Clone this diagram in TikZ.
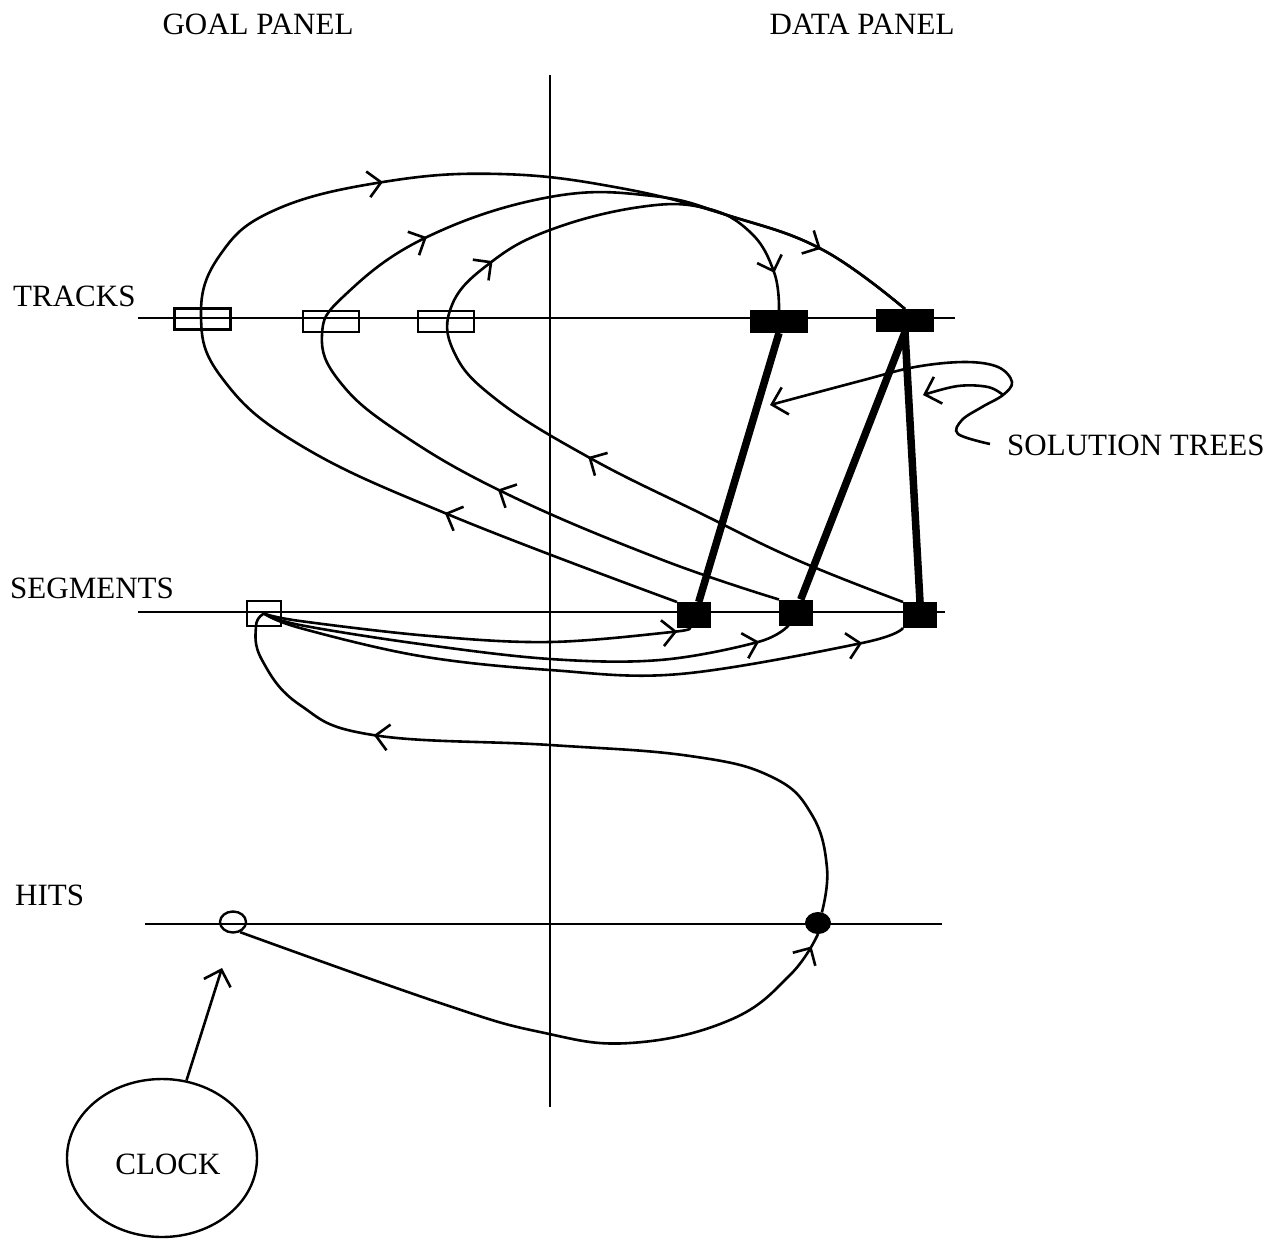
\documentclass[tikz,border=0pt]{standalone}
\usepackage{fontspec}
\setmainfont{Liberation Serif}
\usetikzlibrary{arrows.meta,decorations.markings,shapes.geometric}
\begin{document}
\begin{tikzpicture}[x=1pt,y=-1pt,
  lane/.style={line width=2.4pt},
  curve/.style={line width=2.6pt},
  goalbox/.style={draw, line width=2.8pt, minimum width=56pt, minimum height=21pt, inner sep=0pt},
  sgoalbox/.style={draw, line width=2.8pt, minimum width=34pt, minimum height=25pt, inner sep=0pt},
  databox/.style={draw, fill=black, line width=1pt, minimum width=57pt, minimum height=22pt, inner sep=0pt},
  sdatabox/.style={draw, fill=black, line width=1pt, minimum width=33pt, minimum height=25pt, inner sep=0pt},
  lbl/.style={font=\fontsize{31}{37}\selectfont, inner sep=0pt},
  arr/.style={postaction={decorate, decoration={markings, mark=at position #1 with {\arrow{Straight Barb[length=13pt,width=26pt,line width=2.6pt]}}}}},
  tree/.style={line width=7.5pt},
  tipv/.style={-{Straight Barb[length=14pt,width=28pt]}}
]
\useasboundingbox (0,0) rectangle (1281,1241);

% labels
\node[lbl, anchor=base] (goalL) at (258,35) {GOAL PANEL};
\node[lbl, anchor=base] (dataL) at (862,35) {DATA PANEL};
\node[lbl, anchor=base west] (tracksL) at (13,306) {TRACKS};
\node[lbl, anchor=base west] (segL) at (10,598) {SEGMENTS};
\node[lbl, anchor=base west] (hitsL) at (15,905) {HITS};
\node[lbl, anchor=base west] (solL) at (1007,455) {SOLUTION TREES};

% axes
\coordinate (vtop) at (550,75);
\coordinate (vbot) at (550,1107);
\draw[lane] (vtop) -- (vbot);
\coordinate (tl) at (138,318); \coordinate (tr) at (955,318);
\coordinate (sl) at (138,612); \coordinate (sr) at (945,612);
\coordinate (hl) at (145,924); \coordinate (hr) at (942,924);
\draw[lane] (tl) -- (tr);
\draw[lane] (sl) -- (sr);
\draw[lane] (hl) -- (hr);

% nodes
\node[goalbox] (tg1) at (202.5,319) {};
\node[goalbox] (tg2) at (331,321.5) {};
\node[goalbox] (tg3) at (446,321.5) {};
\node[databox] (td1) at (779,321.5) {};
\node[databox] (td2) at (905,320.5) {};
\node[sgoalbox] (sg) at (264,613.5) {};
\node[sdatabox] (sd1) at (694,615) {};
\node[sdatabox] (sd2) at (796,612.5) {};
\node[sdatabox] (sd3) at (920,615) {};
\node[draw, ellipse, line width=2.4pt, minimum width=26pt, minimum height=21pt, inner sep=0pt] (hg) at (233,922) {};
\node[draw, ellipse, fill=black, line width=1pt, minimum width=25pt, minimum height=21pt, inner sep=0pt] (hd) at (818,923) {};
\node[draw, ellipse, line width=2.4pt, minimum width=190pt, minimum height=158pt] (clock) at (162,1158) {};
\node[lbl, anchor=base] (clockL) at (168,1174) {CLOCK};

% loop A: sd1 -> track goal 1 -> td2
\draw[curve, arr=0.18, arr=0.60, arr=0.925] plot[smooth, tension=0.7] coordinates {
 (sd1.north west) (452,516) (300,445) (222,378) (201,315) (220,255) (275,210)
 (383,182) (500,174) (620,188) (730,216) (823,250) (td2.north)};
% loop B: sd2 -> track goal 2 -> td2
\draw[curve, arr=0.25, arr=0.575] plot[smooth, tension=0.7] coordinates {
 (sd2.north west) (660,559) (507,494) (400,433) (340,382) (322,335) (345,295)
 (427,237) (550,197) (653,196) (730,216) (823,250) (td2.north)};
% loop C: sd3 -> track goal 3 -> td1
\draw[curve, arr=0.35, arr=0.635, arr=0.962] plot[smooth, tension=0.7] coordinates {
 (sd3.north west) (797,560) (700,513) (590,458) (497,400) (454,352) (452,305)
 (490,263) (550,230) (640,207) (705,208) (750,232) (774,272) (td1.north)};

% segment goal -> segment data
\draw[curve, arr=-14pt] plot[smooth, tension=0.6] coordinates {
 (sg.center) (300,621) (430,636) (550,642) (672,632) (sd1.250)};
\draw[curve, arr=-34pt] plot[smooth, tension=0.6] coordinates {
 (sg.center) (300,625) (420,644) (550,659) (660,660) (758,642) (sd2.240)};
\draw[curve, arr=-44pt] plot[smooth, tension=0.6] coordinates {
 (sg.center) (300,628) (420,656) (550,670) (680,674) (862,643) (sd3.south west)};

% hits data -> segment goal
\draw[curve, arr=0.745] plot[smooth, tension=0.7] coordinates {
 (hd.70) (827,868) (812,815) (772,777) (690,756) (550,745) (373,735)
 (300,705) (262,660) (256,626) (sg.center)};
% hits goal -> hits data
\draw[curve, arr=-14pt] plot[smooth, tension=0.7] coordinates {
 (hg.-55) (440,1003) (540,1032) (630,1043) (730,1020) (790,975) (hd.south)};

% solution trees
\draw[tree] (td1.south) -- (sd1.70);
\draw[tree] (td2.south) -- (sd2.70);
\draw[tree] (td2.south) -- (sd3.north);

% solution tree pointers
\coordinate (solA) at (990,444);
\coordinate (solJ) at (1003,395);
\coordinate (solT1) at (770,405);
\coordinate (solT2) at (923,395);
\draw[curve, tipv] plot[smooth, tension=0.6] coordinates {
 (solA) (958,434) (962,420) (982,407) (solJ) (1012,382) (998,367) (965,362)
 (915,367) (860,381) (solT1)};
\draw[curve, tipv] plot[smooth, tension=0.6] coordinates {
 (solJ) (988,387) (958,386) (solT2)};

% clock arrow
\coordinate (clockTip) at (222,968);
\draw[curve, tipv] (clock) -- (clockTip);
\end{tikzpicture}
\end{document}
